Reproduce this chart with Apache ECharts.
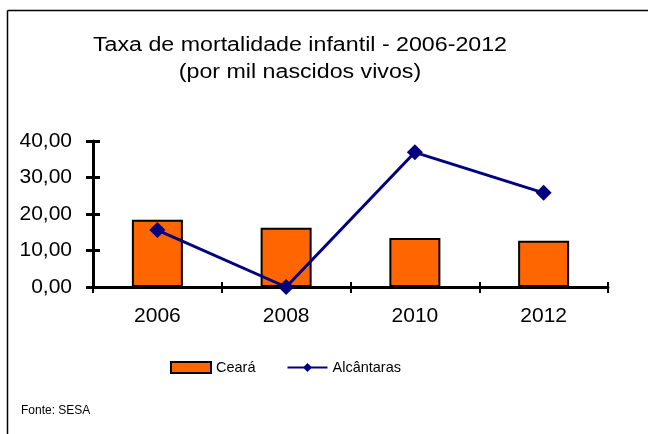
<!DOCTYPE html>
<html><head><meta charset="utf-8">
<script src="https://cdn.jsdelivr.net/npm/echarts@6/dist/echarts.min.js"></script>
<style>html,body{margin:0;padding:0;background:#fff}#c{width:648px;height:434px}</style>
</head><body><div id="c"></div>
<script>
const categories = ['2006', '2008', '2010', '2012'];
const cearaValues = [18.4, 16.2, 13.4, 12.7];
const alcantarasValues = [15.6, 0.0, 36.9, 25.8];
const yTicks = [0, 10, 20, 30, 40];
const titleLines = ['Taxa de mortalidade infantil - 2006-2012', '(por mil nascidos vivos)'];
const sourceText = 'Fonte: SESA';

const FONT = 'Liberation Sans, Arial, sans-serif';
const chart = echarts.init(document.getElementById('c'), null, {renderer: 'canvas'});
const fmt = v => v.toFixed(2).replace('.', ',');
const grid = {left: 93, right: 40, top: 141, bottom: 147};
const axisLine = {show: true, lineStyle: {color: '#000', width: 3}};
chart.setOption({
  animation: false,
  backgroundColor: '#fff',
  legend: {
    left: 165, top: 355, itemGap: 31, itemWidth: 40, itemHeight: 11,
    textStyle: {fontFamily: FONT, fontSize: 14.5, color: '#000'},
    data: [
      {name: 'Ceará', icon: 'rect', itemStyle: {color: '#FF6600', borderColor: '#000', borderWidth: 2}},
      {name: 'Alcântaras'}
    ]
  },
  grid: grid,
  xAxis: [{
    type: 'category', data: categories, boundaryGap: true,
    axisLine: axisLine,
    axisTick: {show: true, inside: false, length: 6, lineStyle: {color: '#000', width: 2}},
    axisLabel: {fontFamily: FONT, fontSize: 21, color: '#000', margin: 19},
    splitLine: {show: false}
  }, {
    type: 'category', data: categories, boundaryGap: true, position: 'bottom',
    axisLine: {show: false},
    axisTick: {show: true, inside: true, length: 5, lineStyle: {color: '#000', width: 2}},
    axisLabel: {show: false}, splitLine: {show: false}
  }],
  yAxis: [{
    type: 'value', min: yTicks[0], max: yTicks[yTicks.length - 1], interval: 10,
    axisLine: axisLine,
    axisTick: {show: true, inside: false, length: 7, lineStyle: {color: '#000', width: 3}},
    axisLabel: {fontFamily: FONT, fontSize: 21, color: '#000', margin: 21, formatter: fmt},
    splitLine: {show: false}
  }, {
    type: 'value', min: yTicks[0], max: yTicks[yTicks.length - 1], interval: 10, position: 'left',
    axisLine: {show: false},
    axisTick: {show: true, inside: true, length: 7, lineStyle: {color: '#000', width: 3}},
    axisLabel: {show: false}, splitLine: {show: false}
  }],
  series: [{
    name: 'Ceará', type: 'bar', data: cearaValues, barWidth: 51,
    itemStyle: {color: '#FF6600', borderColor: '#000', borderWidth: 2}
  }, {
    name: 'Alcântaras', type: 'line', data: alcantarasValues,
    symbol: 'diamond', symbolSize: 16,
    lineStyle: {color: '#000080', width: 3},
    itemStyle: {color: '#000080'}
  }],
  graphic: [
    {type: 'line', shape: {x1: 7.5, y1: 10.5, x2: 648, y2: 10.5}, style: {stroke: '#000', lineWidth: 1.5}},
    {type: 'line', shape: {x1: 7.5, y1: 10.5, x2: 7.5, y2: 434}, style: {stroke: '#000', lineWidth: 1.5}},
    {type: 'text', x: 300, y: 45, scaleX: 1.16, style: {text: titleLines[0], font: '20px Liberation Sans, Arial, sans-serif', fill: '#000', textAlign: 'center', textVerticalAlign: 'middle'}},
    {type: 'text', x: 300, y: 72, scaleX: 1.16, style: {text: titleLines[1], font: '20px Liberation Sans, Arial, sans-serif', fill: '#000', textAlign: 'center', textVerticalAlign: 'middle'}},
    {type: 'text', left: 21, top: 405, style: {text: sourceText, font: '12px Liberation Sans, Arial, sans-serif', fill: '#000'}}
  ]
});
</script></body></html>
